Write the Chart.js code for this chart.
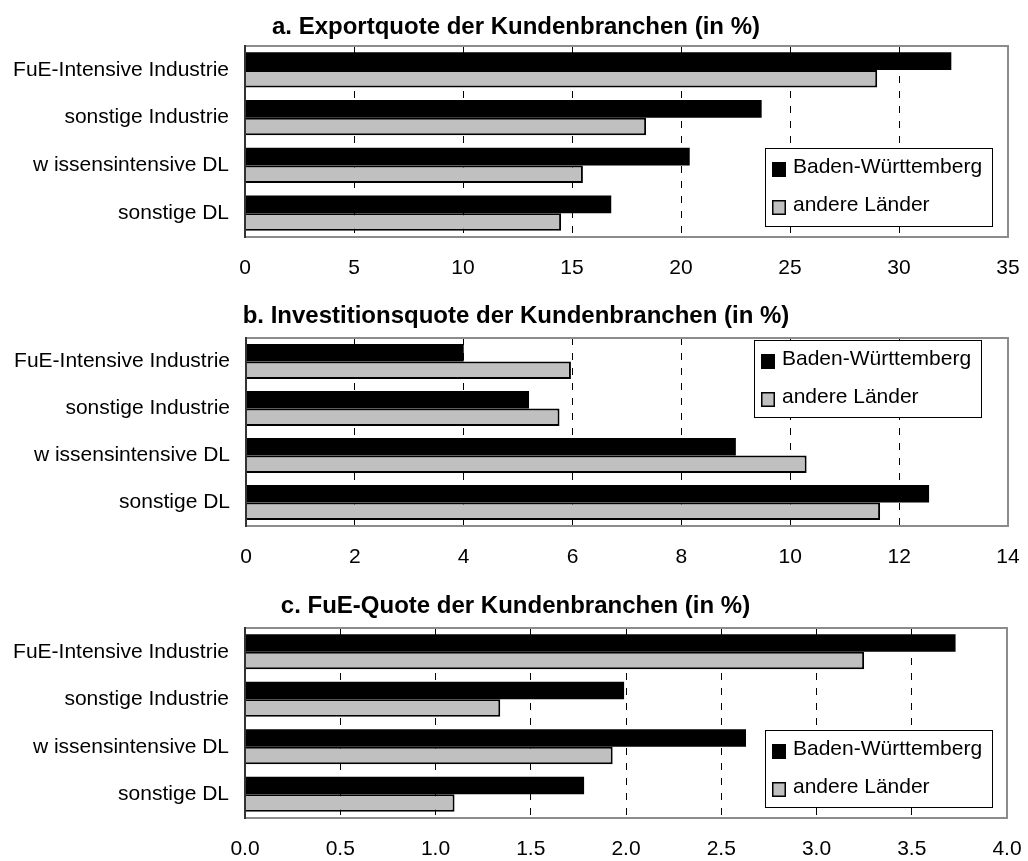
<!DOCTYPE html>
<html>
<head>
<meta charset="utf-8">
<script src="https://cdn.jsdelivr.net/npm/chart.js@4"></script>
<style>
  body { margin: 0; background: #fff; }
  .box { position: absolute; left: 0; width: 1028px; }
</style>
</head>
<body>
<div class="box" style="top:0;height:280px"><canvas id="chartA"></canvas></div>
<div class="box" style="top:280px;height:290px"><canvas id="chartB"></canvas></div>
<div class="box" style="top:570px;height:291px"><canvas id="chartC"></canvas></div>
<script>
// Data
const categories = ['FuE-Intensive Industrie', 'sonstige Industrie', 'w issensintensive DL', 'sonstige DL'];
const seriesNames = ['Baden-Württemberg', 'andere Länder'];

const exportBW = [32.4, 23.7, 20.4, 16.8];
const exportOther = [29.0, 18.4, 15.5, 14.5];

const investBW = [4.0, 5.2, 9.0, 12.55];
const investOther = [5.97, 5.76, 10.3, 11.65];

const fueBW = [3.73, 1.99, 2.63, 1.78];
const fueOther = [3.25, 1.34, 1.93, 1.1];

const titles = [
    'a. Exportquote der Kundenbranchen (in %)',
    'b. Investitionsquote der Kundenbranchen (in %)',
    'c. FuE-Quote der Kundenbranchen (in %)'
];

Chart.defaults.font.family = '"Liberation Sans", Arial, sans-serif';
Chart.defaults.font.size = 21;
Chart.defaults.color = '#000';

// Legend drawn as a framed box inside the plot, like the original
const boxLegend = {
    id: 'boxLegend',
    afterDraw(chart, args, opts) {
        const ctx = chart.ctx;
        ctx.save();
        ctx.fillStyle = '#fff';
        ctx.fillRect(opts.x, opts.y, opts.w, opts.h);
        ctx.strokeStyle = '#000';
        ctx.lineWidth = 1;
        ctx.strokeRect(opts.x + 0.5, opts.y + 0.5, opts.w, opts.h);
        chart.data.datasets.forEach((ds, i) => {
            const cy = opts.y + 21 + i * 38;
            ctx.fillStyle = ds.backgroundColor;
            ctx.fillRect(opts.x + 7, cy - 7, 14, 15);
            if (ds.borderWidth) {
                ctx.strokeStyle = '#000';
                ctx.lineWidth = 1.5;
                ctx.strokeRect(opts.x + 7.75, cy - 6.25, 12.5, 13.5);
            }
            ctx.fillStyle = '#000';
            ctx.font = '21px "Liberation Sans", Arial, sans-serif';
            ctx.textBaseline = 'middle';
            ctx.fillText(ds.label, opts.x + 28, cy - 2);
        });
        ctx.restore();
    }
};

// Grey plot frame with a dark category axis on the left
const plotFrame = {
    id: 'plotFrame',
    afterDatasetsDraw(chart) {
        const a = chart.chartArea;
        const ctx = chart.ctx;
        ctx.save();
        ctx.strokeStyle = '#8c8c8c';
        ctx.lineWidth = 2;
        ctx.strokeRect(a.left, a.top, a.right - a.left, a.bottom - a.top);
        ctx.strokeStyle = '#333';
        ctx.beginPath();
        ctx.moveTo(a.left, a.top - 1);
        ctx.lineTo(a.left, a.bottom + 1);
        ctx.stroke();
        ctx.restore();
    }
};

// The original title sits centred on the full picture width, a bit right of the layout box
const titleShift = {
    id: 'titleShift',
    afterLayout(chart, args, opts) {
        if (chart.titleBlock) {
            chart.titleBlock.left += opts.dx * 2;
        }
    }
};

function makeChart(id, title, bw, other, opt) {
    const ctx = document.getElementById(id).getContext('2d');
    return new Chart(ctx, {
        type: 'bar',
        data: {
            labels: categories,
            datasets: [{
                label: seriesNames[0],
                data: bw,
                backgroundColor: '#000000',
                borderWidth: 0,
                categoryPercentage: 0.74,
                barPercentage: 1.0
            }, {
                label: seriesNames[1],
                data: other,
                backgroundColor: '#c0c0c0',
                borderColor: '#000000',
                borderWidth: 2,
                categoryPercentage: 0.74,
                barPercentage: 1.0
            }]
        },
        options: {
            indexAxis: 'y',
            responsive: true,
            maintainAspectRatio: false,
            animation: false,
            layout: { padding: { left: 0, right: opt.right, top: 0, bottom: 0 } },
            scales: {
                x: {
                    min: 0,
                    max: opt.max,
                    ticks: {
                        stepSize: opt.step,
                        padding: 0,
                        font: { size: 21 },
                        callback: v => opt.decimals ? Number(v).toFixed(opt.decimals) : v
                    },
                    grid: {
                        drawTicks: true,
                        tickLength: 19,
                        tickColor: 'rgba(0,0,0,0)',
                        lineWidth: 1,
                        color: c => (c.tick && (c.tick.value === 0 || c.tick.value === opt.max)) ? 'rgba(0,0,0,0)' : '#000'
                    },
                    border: { display: false, dash: [7, 8] },
                    afterFit: s => { s.height = opt.axisH; }
                },
                y: {
                    grid: { display: false, drawTicks: false },
                    border: { display: false },
                    ticks: { padding: 16, font: { size: 21 } },
                    afterFit: s => { s.width = opt.left; }
                }
            },
            plugins: {
                legend: { display: false },
                tooltip: { enabled: false },
                title: {
                    display: true,
                    text: title,
                    font: { size: 24, weight: 'bold' },
                    padding: { top: opt.titleTop, bottom: opt.titleBottom }
                },
                titleShift: { dx: 12 },
                boxLegend: opt.legend
            }
        },
        plugins: [plotFrame, boxLegend, titleShift]
    });
}

makeChart('chartA', titles[0], exportBW, exportOther, {
    max: 35, step: 5, decimals: 0, right: 20, left: 245, axisH: 43,
    titleTop: 13, titleBottom: 4.2,
    legend: { x: 765, y: 148, w: 227, h: 78 }
});

makeChart('chartB', titles[1], investBW, investOther, {
    max: 14, step: 2, decimals: 0, right: 20, left: 246, axisH: 44,
    titleTop: 21.5, titleBottom: 7.7,
    legend: { x: 754, y: 60, w: 227, h: 77 }
});

makeChart('chartC', titles[2], fueBW, fueOther, {
    max: 4, step: 0.5, decimals: 1, right: 21, left: 245, axisH: 43,
    titleTop: 21.5, titleBottom: 7.7,
    legend: { x: 765, y: 160, w: 227, h: 77 }
});
</script>
</body>
</html>
